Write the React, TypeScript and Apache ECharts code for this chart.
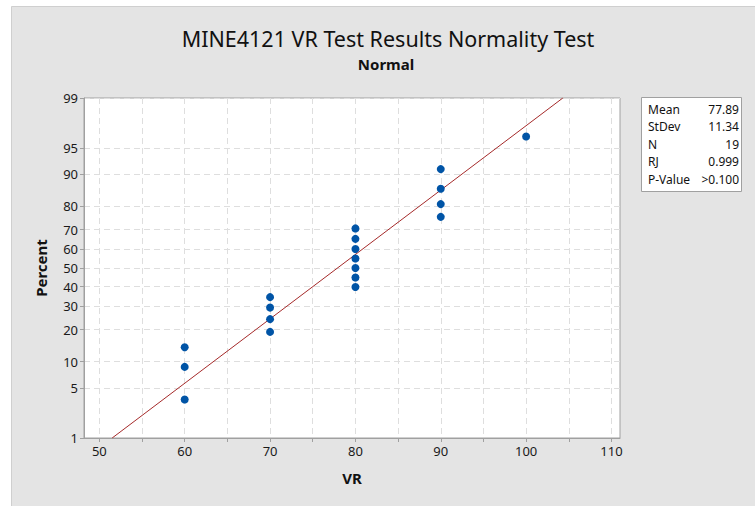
import React, { useEffect, useRef } from 'react';
import * as echarts from 'echarts';

// Observed VR scores (sorted) and their plotted percent positions
const vrValues = [60, 60, 60, 70, 70, 70, 70, 80, 80, 80, 80, 80, 80, 80, 90, 90, 90, 90, 100];
const percentValues = [3.6, 8.8, 13.9, 19.1, 24.2, 29.4, 34.5, 39.7, 44.8, 50.0, 55.2, 60.3, 65.5, 70.6, 75.8, 80.9, 86.1, 91.2, 96.4];

// Fitted normal line endpoints (VR at 1% and 99%)
const fitX = [51.5, 104.3];
const fitPercent = [1, 99];

// Axis ticks
const percentTicks = [1, 5, 10, 20, 30, 40, 50, 60, 70, 80, 90, 95, 99];
const xLabelTicks = [50, 60, 70, 80, 90, 100, 110];
const xTicks = [50, 55, 60, 65, 70, 75, 80, 85, 90, 95, 100, 105, 110];

// Statistics box
const statLabels = ['Mean', 'StDev', 'N', 'RJ', 'P-Value'];
const statValues = ['77.89', '11.34', '19', '0.999', '>0.100'];

// inverse standard normal CDF (probability-scale transform)
function probit(p: number): number {
  const a = [-3.969683028665376e1, 2.209460984245205e2, -2.759285104469687e2, 1.38357751867269e2, -3.066479806614716e1, 2.506628277459239];
  const b = [-5.447609879822406e1, 1.615858368580409e2, -1.556989798598866e2, 6.680131188771972e1, -1.328068155288572e1];
  const c = [-7.784894002430293e-3, -3.223964580411365e-1, -2.400758277161838, -2.549732539343734, 4.374664141464968, 2.938163982698783];
  const d = [7.784695709041462e-3, 3.224671290700398e-1, 2.445134137142996, 3.754408661907416];
  const pl = 0.02425;
  if (p < pl) {
    const q = Math.sqrt(-2 * Math.log(p));
    return (((((c[0] * q + c[1]) * q + c[2]) * q + c[3]) * q + c[4]) * q + c[5]) / ((((d[0] * q + d[1]) * q + d[2]) * q + d[3]) * q + 1);
  }
  if (p <= 1 - pl) {
    const q = p - 0.5;
    const r = q * q;
    return (((((a[0] * r + a[1]) * r + a[2]) * r + a[3]) * r + a[4]) * r + a[5]) * q / (((((b[0] * r + b[1]) * r + b[2]) * r + b[3]) * r + b[4]) * r + 1);
  }
  const q = Math.sqrt(-2 * Math.log(1 - p));
  return -(((((c[0] * q + c[1]) * q + c[2]) * q + c[3]) * q + c[4]) * q + c[5]) / ((((d[0] * q + d[1]) * q + d[2]) * q + d[3]) * q + 1);
}

const FONT = '"Noto Sans", "Open Sans", sans-serif';

export default function App() {
  const ref = useRef<HTMLDivElement>(null);

  useEffect(() => {
    if (!ref.current) return;
    const chart = echarts.init(ref.current, null, { renderer: 'svg' });
    const zTicks = percentTicks.map((p) => probit(p / 100));
    const zMin = probit(0.01);
    const zMax = probit(0.99);

    const labelFor = (v: number) => {
      let best = 0;
      for (let i = 1; i < zTicks.length; i++) {
        if (Math.abs(zTicks[i] - v) < Math.abs(zTicks[best] - v)) best = i;
      }
      return String(percentTicks[best]);
    };

    const boxLeft = 641;
    const boxTop = 97;
    const rowH = 17.6;

    const statGraphics: any[] = [];
    statLabels.forEach((lab, i) => {
      statGraphics.push({
        type: 'text',
        left: boxLeft + 7,
        top: boxTop + 6 + i * rowH,
        style: { text: lab, font: `12px ${FONT}`, fill: '#111' },
      });
      statGraphics.push({
        type: 'text',
        right: 755 - 739,
        top: boxTop + 6 + i * rowH,
        style: { text: statValues[i], font: `12px ${FONT}`, fill: '#111', textAlign: 'right' },
      });
    });

    const option: any = {
      animation: false,
      backgroundColor: '#ffffff',
      graphic: [
        {
          type: 'rect',
          shape: { x: 11.5, y: 6.5, width: 760, height: 520 },
          style: { fill: '#e4e4e4', stroke: '#cfcfcf', lineWidth: 1 },
          z: -10,
          silent: true,
        },
        {
          type: 'text',
          x: 388,
          y: 27,
          style: { text: 'MINE4121 VR Test Results Normality Test', font: `21.5px ${FONT}`, fill: '#111', textAlign: 'center' },
        },
        {
          type: 'text',
          x: 386,
          y: 56,
          style: { text: 'Normal', font: `bold 15px ${FONT}`, fill: '#111', textAlign: 'center' },
        },
        {
          type: 'rect',
          shape: { x: boxLeft + 0.5, y: boxTop + 0.5, width: 100, height: 94 },
          style: { fill: '#ffffff', stroke: '#a0a0a0', lineWidth: 1 },
        },
        ...statGraphics,
      ],
      grid: {
        left: 84,
        right: 135,
        top: 98,
        bottom: 68,
        show: true,
        backgroundColor: '#ffffff',
        borderColor: '#a0a0a0',
        borderWidth: 1,
      },
      xAxis: {
        type: 'value',
        min: 48.2,
        max: 111,
        name: 'VR',
        nameLocation: 'middle',
        nameGap: 32,
        nameTextStyle: { fontFamily: FONT, fontSize: 15, fontWeight: 'bold', color: '#111' },
        axisLine: { show: true, onZero: false, lineStyle: { color: '#a0a0a0' } },
        axisTick: { show: true, length: 4, customValues: xTicks, lineStyle: { color: '#a0a0a0' } },
        axisLabel: { customValues: xLabelTicks, fontFamily: FONT, fontSize: 13, color: '#1a1a1a', margin: 6 },
        splitLine: { show: true, lineStyle: { color: '#dedede', type: [6, 4], width: 1 } },
      },
      yAxis: {
        type: 'value',
        min: zMin,
        max: zMax,
        name: 'Percent',
        nameLocation: 'middle',
        nameGap: 36,
        nameTextStyle: { fontFamily: FONT, fontSize: 15, fontWeight: 'bold', color: '#111' },
        axisLine: { show: true, onZero: false, lineStyle: { color: '#a0a0a0' } },
        axisTick: { show: true, length: 4, customValues: zTicks, lineStyle: { color: '#a0a0a0' } },
        axisLabel: { customValues: zTicks, formatter: (v: number) => labelFor(v), fontFamily: FONT, fontSize: 13, color: '#1a1a1a', margin: 6 },
        splitLine: { show: true, lineStyle: { color: '#dedede', type: [6, 4], width: 1 } },
      },
      series: [
        {
          type: 'line',
          data: fitX.map((x, i) => [x, probit(fitPercent[i] / 100)]),
          symbol: 'none',
          lineStyle: { color: '#a52a2a', width: 1 },
          silent: true,
          z: 2,
        },
        {
          type: 'scatter',
          data: vrValues.map((x, i) => [x, probit(percentValues[i] / 100)]),
          symbol: 'circle',
          symbolSize: 8,
          itemStyle: { color: '#0054a6', opacity: 1 },
          z: 3,
        },
      ],
    };
    chart.setOption(option);
    return () => chart.dispose();
  }, []);

  return (
    <div style={{ position: 'absolute', left: 0, top: 0, width: 755, height: 506 }}>
      <div ref={ref} style={{ width: 755, height: 506 }} />
    </div>
  );
}
